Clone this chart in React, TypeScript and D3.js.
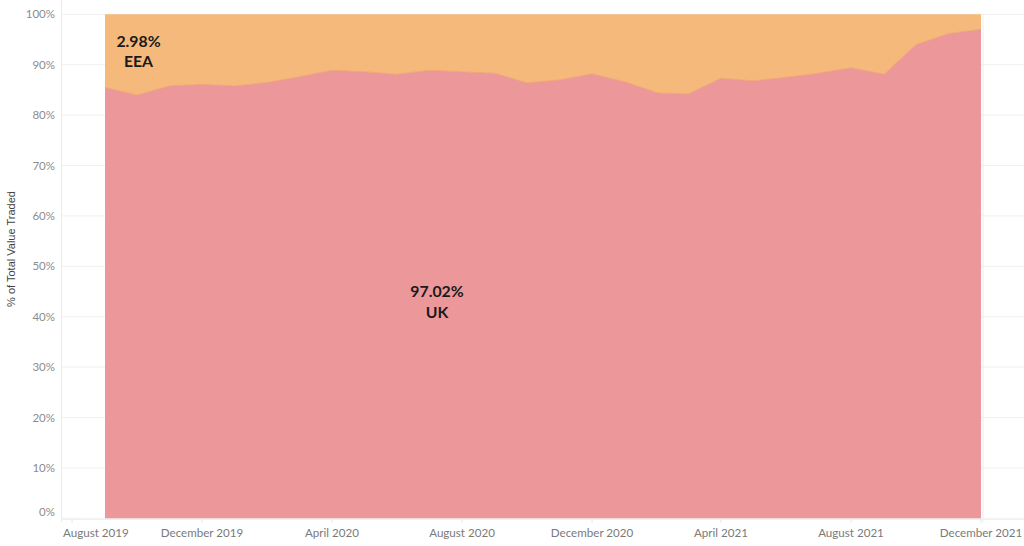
import React from "react";
import * as d3 from "d3";

const months = [
  "2019-09", "2019-10", "2019-11", "2019-12",
  "2020-01", "2020-02", "2020-03", "2020-04", "2020-05", "2020-06",
  "2020-07", "2020-08", "2020-09", "2020-10", "2020-11", "2020-12",
  "2021-01", "2021-02", "2021-03", "2021-04", "2021-05", "2021-06",
  "2021-07", "2021-08", "2021-09", "2021-10", "2021-11", "2021-12",
];
const ukShare = [
  85.5, 84.0, 85.8, 86.1,
  85.8, 86.5, 87.6, 88.9, 88.6, 88.1,
  88.9, 88.6, 88.3, 86.4, 87.0, 88.2,
  86.6, 84.4, 84.2, 87.3, 86.8, 87.5,
  88.3, 89.4, 88.1, 94.0, 96.2, 97.02,
];
const eeaShare = [
  14.5, 16.0, 14.2, 13.9,
  14.2, 13.5, 12.4, 11.1, 11.4, 11.9,
  11.1, 11.4, 11.7, 13.6, 13.0, 11.8,
  13.4, 15.6, 15.8, 12.7, 13.2, 12.5,
  11.7, 10.6, 11.9, 6.0, 3.8, 2.98,
];
const xTickDates = ["2019-08", "2019-12", "2020-04", "2020-08", "2020-12", "2021-04", "2021-08", "2021-12"];
const xTickLabels = ["August 2019", "December 2019", "April 2020", "August 2020", "December 2020", "April 2021", "August 2021", "December 2021"];
const yTicks = [0, 0.1, 0.2, 0.3, 0.4, 0.5, 0.6, 0.7, 0.8, 0.9, 1];

const W = 1024;
const H = 546;
const FONT = "Lato, 'Open Sans', sans-serif";

export default function App() {
  const parse = d3.timeParse("%Y-%m");
  const rows = months.map((m, i) => ({ date: parse(m) as Date, UK: ukShare[i], EEA: eeaShare[i] }));
  const x = d3.scaleTime().domain([parse("2019-08") as Date, parse("2021-12") as Date]).range([72, 981]);
  const y = d3.scaleLinear().domain([0, 1]).range([518.3, 14.3]);
  const stack = d3.stack<any>().keys(["UK", "EEA"]).offset(d3.stackOffsetExpand);
  const series = stack(rows);
  const area = d3
    .area<any>()
    .x((d) => x(d.data.date))
    .y0((d) => y(d[0]))
    .y1((d) => y(d[1]));
  const line = d3
    .line<any>()
    .x((d) => x(d.data.date))
    .y((d) => y(d[1]));
  const colors: Record<string, string> = { UK: "#EC979A", EEA: "#F5B97C" };
  const xEnd = x(rows[rows.length - 1].date);

  return (
    <svg width={W} height={H} style={{ position: "absolute", left: 0, top: 0, background: "#fff" }}>
      {yTicks.map((t) => (
        <line key={"g" + t} x1={61} x2={W} y1={y(t)} y2={y(t)} stroke="#f0f0f0" strokeWidth={1} />
      ))}
      <line x1={61.5} x2={61.5} y1={0} y2={522} stroke="#ececec" />
      <line x1={61} x2={W} y1={519.5} y2={519.5} stroke="#f0f0f0" />
      {series.map((s) => (
        <path key={s.key} d={area(s) as string} fill={colors[s.key]} />
      ))}
      <path d={line(series[0]) as string} fill="none" stroke="#F0A674" strokeWidth={1} />
      <line x1={xEnd + 2} x2={xEnd + 2} y1={14} y2={522} stroke="#eeeeee" />
      {yTicks.map((t) => (
        <text key={"t" + t} x={55} y={t === 0 ? y(t) - 6 : y(t)} dy="0.35em" textAnchor="end" fontFamily={FONT} fontSize={11.5} fill="#8c8c8c">
          {Math.round(t * 100) + "%"}
        </text>
      ))}
      {xTickDates.map((m, i) => {
        const px = x(parse(m) as Date);
        return (
          <g key={m}>
            <line x1={px} x2={px} y1={519} y2={523} stroke="#e6e6e6" />
            <text
              x={i === 0 ? 63 : px}
              y={537}
              textAnchor={i === 0 ? "start" : "middle"}
              fontFamily={FONT}
              fontSize={11.6}
              fill="#7a7a7a"
            >
              {xTickLabels[i]}
            </text>
          </g>
        );
      })}
      <text
        transform={`translate(15,249) rotate(-90)`}
        textAnchor="middle"
        fontFamily="'Liberation Sans', Arial, sans-serif"
        fontSize={11}
        fill="#444"
      >
        % of Total Value Traded
      </text>
      <g fontFamily={FONT} fontWeight="bold" fontSize={15.8} fill="#1a1a1a" textAnchor="middle">
        <text x={138.5} y={41} dy="0.36em">2.98%</text>
        <text x={138.5} y={61} dy="0.36em">EEA</text>
        <text x={437} y={291.5} dy="0.36em">97.02%</text>
        <text x={437} y={312} dy="0.36em">UK</text>
      </g>
    </svg>
  );
}
